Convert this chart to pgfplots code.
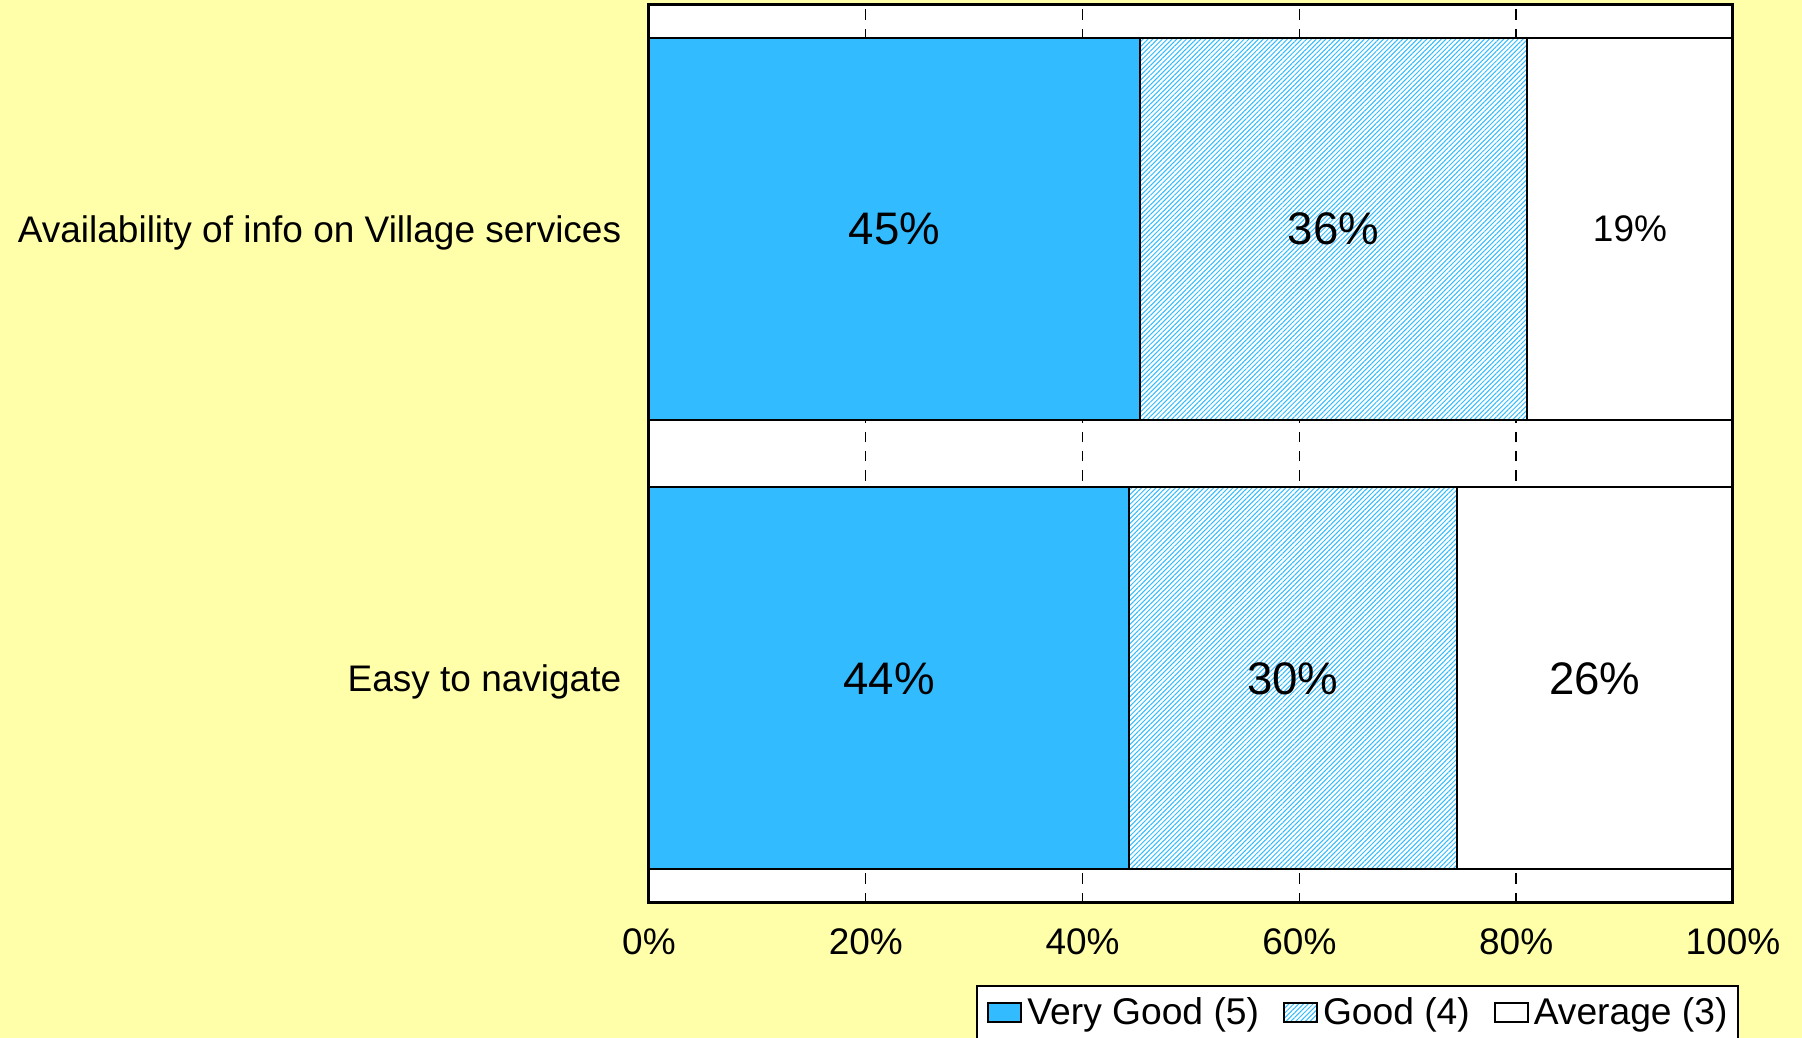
\documentclass[border=0pt]{standalone}
\usepackage{pgfplots}
\pgfplotsset{compat=1.18}
\usepackage{fontspec}
\setmainfont{Liberation Sans}
\usetikzlibrary{patterns.meta}
\definecolor{barblue}{RGB}{51,187,255}
\definecolor{bgyellow}{RGB}{255,255,170}
\pgfplotsset{mylegend/.style={legend image code/.code={\draw[##1, line width=0.5pt] (0pt,-2.2pt) rectangle (8.25pt,2.55pt);}}}
\begin{document}
\begin{tikzpicture}
\useasboundingbox (-162.25pt,-33.75pt) rectangle (288.25pt,225.75pt);
\clip (-162.25pt,-33.75pt) rectangle (288.25pt,225.75pt);
\fill[bgyellow] (-162.25pt,-33.75pt) rectangle (288.25pt,225.75pt);
\begin{axis}[
  name=main,
  scale only axis, width=271pt, height=224.6pt,
  xbar stacked, bar width=95.5pt,
  xmin=0, xmax=100, ymin=-0.5, ymax=1.5,
  axis background/.style={fill=white},
  axis line style={line width=0.75pt},
  xtick={0,20,40,60,80,100},
  xticklabels={0\%,20\%,40\%,60\%,80\%,100\%},
  ytick={0,1},
  yticklabels={Easy to navigate, Availability of info on Village services},
  major tick length=0pt,
  xmajorgrids,
  major grid style={black, line width=0.35pt, dash pattern=on 2.6pt off 2.2pt},
  tick label style={font=\fontsize{9.25}{11}\selectfont, inner sep=0pt},
  xticklabel style={anchor=base, yshift=-12.9pt},
  yticklabel style={anchor=base east, xshift=-6.75pt, yshift=-3.4pt},
  legend columns=3,
  legend style={
    at={(0.3017,-0.0913)}, anchor=north west,
    draw=black, line width=0.5pt, fill=white,
    font=\fontsize{9.3}{11}\selectfont,
    inner xsep=2.6pt, inner ysep=2.8pt,
    nodes={inner sep=0pt},
    column sep=0pt,
    /tikz/every odd column/.append style={column sep=1.25pt},
    /tikz/every even column/.append style={column sep=6pt},
  },
]
\addplot[mylegend, fill=barblue, draw=black, line width=0.5pt] coordinates {(44.3,0) (45.3,1)};
\addplot[mylegend, fill=white, draw=black, line width=0.5pt,
  postaction={pattern={Lines[angle=45,distance=0.85pt,line width=0.25pt]}, pattern color=barblue}]
  coordinates {(30.2,0) (35.7,1)};
\addplot[mylegend, fill=white, draw=black, line width=0.5pt] coordinates {(25.5,0) (19.0,1)};
\legend{Very Good (5), Good (4), Average (3)\hspace{1.1pt}}
\end{axis}
\draw[line width=0.75pt] (main.south west) rectangle (main.north east);
\begin{axis}[
  at={(main.south west)}, anchor=south west,
  scale only axis, width=271pt, height=224.6pt,
  xmin=0, xmax=100, ymin=-0.5, ymax=1.5,
  hide axis, clip=false,
]
\addplot[draw=none, mark=none, nodes near coords, point meta=explicit symbolic,
  nodes near coords style={anchor=center, inner sep=0pt, font=\fontsize{11.4}{13}\selectfont, text=black}]
  coordinates {(22.65,1) [45\%] (63.15,1) [36\%] (22.15,0) [44\%] (59.4,0) [30\%] (87.25,0) [26\%]};
\addplot[draw=none, mark=none, nodes near coords, point meta=explicit symbolic,
  nodes near coords style={anchor=center, inner sep=0pt, font=\fontsize{9.25}{11}\selectfont, text=black}]
  coordinates {(90.5,1) [19\%]};
\end{axis}
\end{tikzpicture}
\end{document}
